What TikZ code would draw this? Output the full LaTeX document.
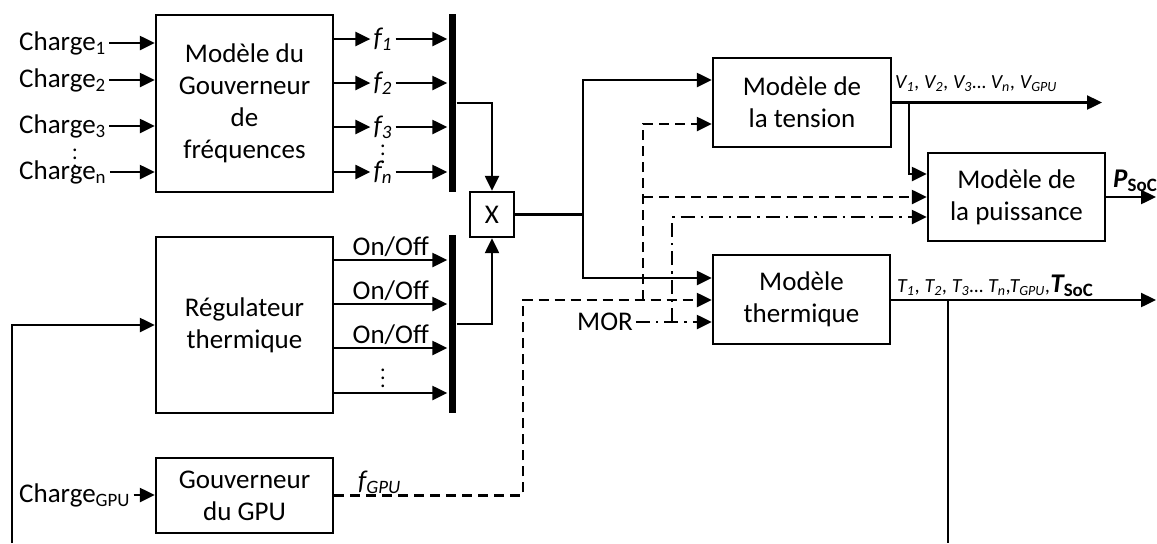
\documentclass[tikz,border=0pt]{standalone}
\usepackage{fontspec}
\setmainfont{Carlito}
\usetikzlibrary{arrows.meta}

\begin{document}
\begin{tikzpicture}[x=0.5pt, y=-0.5pt, % 像素坐标,y 向下
    font=\fontsize{13.5}{16}\selectfont,
    line width=1.2pt,
    blk/.style={draw, align=center, inner sep=2pt},
    busbar/.style={fill=black, inner sep=0pt, minimum width=3.5pt},
    arr/.style={-{Triangle[length=7.5pt,width=7pt]}},
    dsh/.style={dash pattern=on 5pt off 3pt},
    dshdot/.style={dash pattern=on 7pt off 3pt on 1.2pt off 3pt},
    lbl/.style={inner sep=1pt},
    dots/.style={inner sep=0pt, font=\fontsize{11}{11}\selectfont},
    sml/.style={font=\fontsize{10}{12}\selectfont\itshape, inner sep=1pt}]
    \useasboundingbox (0,0) rectangle (1157,543); % 画布
    % 方框
    \node[blk, minimum width=88.5pt, minimum height=88.5pt] (gouv) at (244.5,103.5) {Modèle du\\Gouverneur\\de\\fréquences};
    \node[blk, minimum width=88.5pt, minimum height=88pt] (regul) at (244.5,325) {Régulateur\\thermique};
    \node[blk, minimum width=88.5pt, minimum height=37.5pt] (gpu) at (244.5,495.5) {Gouverneur\\du GPU};
    \node[blk, minimum width=22pt, minimum height=22.5pt] (mult) at (492,214.5) {X};
    \node[blk, minimum width=89pt, minimum height=44.5pt] (tension) at (802,102.5) {Modèle de\\la tension};
    \node[blk, minimum width=88.5pt, minimum height=44pt] (puiss) at (1016.5,197) {Modèle de\\la puissance};
    \node[blk, minimum width=88.5pt, minimum height=44.5pt] (therm) at (801.5,299.5) {Modèle\\thermique};
    % 汇流条
    \node[busbar, minimum height=89pt] (bus1) at (452,103) {};
    \node[busbar, minimum height=89pt] (bus2) at (452,324) {};
    % 输入 Charge
    \foreach \i/\yy in {1/43,2/80,3/126,n/172} {
        \node[lbl, anchor=west] (ch\i) at (16,\yy) {Charge\textsubscript{\i}};
        \draw[arr] (ch\i.east) -- (gouv.west |- ch\i.east);
    }
    \node[dots] (vd1) at (75,152) {$\vdots$};
    % 频率输出 f
    \foreach \i/\yy in {1/39,2/83,3/127,n/172} {
        \node[lbl] (f\i) at (383,\yy) {\textit{f\textsubscript{\i}}};
        \draw[arr] (gouv.east |- f\i.west) -- (f\i.west);
        \draw[arr] (f\i.east) -- (bus1.west |- f\i.east);
    }
    \node[dots] (vd2) at (383,148) {$\vdots$};
    % On/Off 输出
    \foreach \k/\yy in {1/260,2/304,3/348}
        \draw[arr] (regul.east |- 0,\yy) -- (bus2.west |- 0,\yy) node[midway, above, lbl] (oo\k) {On/Off};
    \draw[arr] (regul.east |- 0,393) -- (bus2.west |- 0,393);
    \node[dots] (vd3) at (383,372) {$\vdots$};
    % 乘法器
    \draw[arr] (bus1.east) -| (mult.north);
    \draw[arr] (bus2.east) -| (mult.south);
    \coordinate (sx) at (583,214.5);
    \draw (mult.east) -- (sx);
    \draw[arr] (sx) |- (tension.west |- 0,80);
    \draw[arr] (sx) |- (therm.west |- 0,278);
    % 电压输出
    \coordinate (vout) at (1102,102.5);
    \draw[arr] (tension.east) -- (vout);
    \node[sml, anchor=base west] (vlab) at (892,88) {V\textsubscript{1}, V\textsubscript{2}, V\textsubscript{3}… V\textsubscript{n}, V\textsubscript{GPU}};
    \coordinate (vbr) at (909,102.5);
    \draw[arr] (vbr) |- (puiss.west |- 0,174);
    % 功率输出
    \coordinate (pout) at (1156,197);
    \draw[arr] (puiss.east) -- (pout);
    \node[lbl, anchor=base west] (plab) at (1110,187) {\textbf{\textit{P}\textsubscript{SoC}}};
    % 温度输出
    \coordinate (tout) at (1156,300);
    \draw[arr] (therm.east |- tout) -- (tout);
    \node[sml, anchor=base west] (tlab) at (894,292) {T\textsubscript{1}, T\textsubscript{2}, T\textsubscript{3}… T\textsubscript{n},T\textsubscript{GPU},{\fontsize{13.5}{16}\selectfont\bfseries T\textsubscript{\upshape SoC}}};
    \coordinate (tbr) at (948,300);
    \coordinate (tbot) at (948,543);
    \draw (tbr) -- (tbot);
    % 反馈
    \coordinate (fb) at (12,543);
    \draw[arr] (fb) |- (regul.west);
    % GPU
    \node[lbl, anchor=west] (chgpu) at (16,495) {Charge\textsubscript{GPU}};
    \draw[arr] (chgpu.east) -- (gpu.west |- chgpu.east);
    \node[lbl, anchor=base west] (fgpu) at (355,489) {\textit{f\textsubscript{GPU}}};
    % 虚线 f_GPU
    \coordinate (dg1) at (523,300);
    \draw[dsh, arr] (gpu.east) -| (dg1) -- (therm.west |- dg1);
    \coordinate (dg2) at (643,300);
    \draw[dsh, arr] (dg2) |- (tension.west |- 0,124);
    \coordinate (dg3) at (643,197);
    \draw[dsh, arr] (dg3) -- (puiss.west |- dg3);
    % MOR
    \node[lbl, anchor=east] (mor) at (636,322) {MOR};
    \draw[dshdot, arr] (mor.east) -- (therm.west |- mor.east);
    \coordinate (md) at (672,322);
    \draw[dshdot, arr] (md) |- (puiss.west |- 0,217);
\end{tikzpicture}
\end{document}
